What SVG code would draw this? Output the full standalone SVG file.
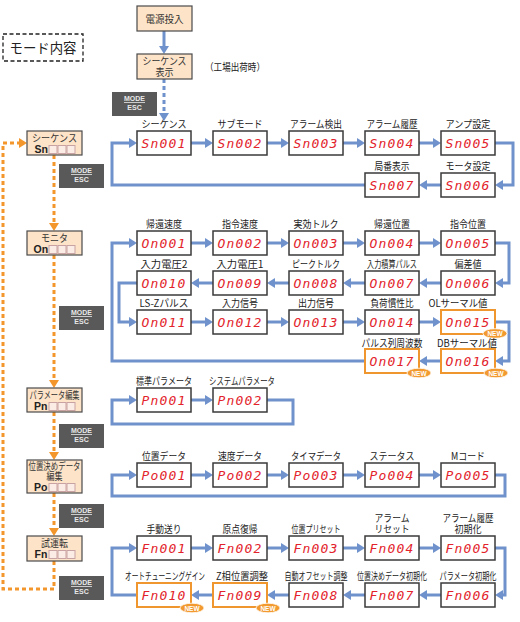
<svg xmlns="http://www.w3.org/2000/svg" width="520" height="622" viewBox="0 0 520 622">
<defs>
<marker id="ah" viewBox="0 0 8 10" markerWidth="8" markerHeight="10" refX="1" refY="5" orient="auto" markerUnits="userSpaceOnUse"><path d="M0,0 L8,5 L0,10 z" fill="#7092cc"/></marker>
<style>
.box{fill:#fff;stroke:#3a3a3a;stroke-width:1.5}
.nbox{fill:#fff;stroke:#f0962e;stroke-width:2}
.mbox{fill:#fde3c8;stroke:#4a4a4a;stroke-width:1.2}
.seg{font-family:"DejaVu Sans Mono",monospace;font-style:italic;font-weight:normal;font-size:13px;fill:#e3232b;letter-spacing:1.2px;text-anchor:middle}
.lbl{font-family:"Noto Sans CJK JP",sans-serif;font-size:10px;fill:#222;text-anchor:middle}
.ml{font-family:"Noto Sans CJK JP",sans-serif;font-size:10px;fill:#333;text-anchor:middle}
.code{font-family:"Liberation Sans",Arial,sans-serif;font-weight:bold;font-size:10.5px;fill:#222}
.sq{fill:#fbece6;stroke:#c9a3a3;stroke-width:1}
.flow{fill:none;stroke:#7092cc;stroke-width:3;marker-end:url(#ah)}
.or{fill:none;stroke:#f3962b;stroke-width:3;stroke-dasharray:4 3}
.oah{fill:#f3962b}
.me{fill:#595959}
.met{font-family:"Liberation Sans",Arial,sans-serif;font-weight:bold;font-size:7px;fill:#e8e8e8;text-anchor:middle}
.new{fill:#f29a30;stroke:#fff;stroke-width:0.8}
.newt{font-family:"Liberation Sans",Arial,sans-serif;font-weight:bold;font-size:6.5px;fill:#fff;text-anchor:middle}
</style>
</defs>
<rect width="520" height="622" fill="#fff"/>

<!-- title -->
<g id="title">
<rect x="3" y="34" width="80" height="27" fill="none" stroke="#222" stroke-width="1.3" stroke-dasharray="4 2.5"/>
<text x="43" y="53" font-family="Noto Sans CJK JP,sans-serif" font-size="13.5" fill="#222" text-anchor="middle" textLength="67" lengthAdjust="spacingAndGlyphs">モード内容</text>
</g>

<!-- connectors -->
<g id="connectors">
<path class="flow" d="M164,31 V47"/>
<path d="M164,79 V114" fill="none" stroke="#7092cc" stroke-width="3" stroke-dasharray="4 3"/>
<path d="M159,113 L169,113 L164,121 z" fill="#7092cc"/>
<text x="205" y="71" font-family="Noto Sans CJK JP,sans-serif" font-size="10" fill="#222" textLength="60" lengthAdjust="spacingAndGlyphs">（工場出荷時）</text>

<!-- Sn -->
<path class="flow" d="M191,143 H206"/>
<path class="flow" d="M267,143 H282"/>
<path class="flow" d="M343,143 H358"/>
<path class="flow" d="M419,143 H434"/>
<path class="flow" d="M495,143 H513 V185 H502"/>
<path class="flow" d="M441,185 H426"/>
<path class="flow" d="M365,185 H112 V143 H130"/>

<!-- On -->
<path class="flow" d="M191,243 H206"/>
<path class="flow" d="M267,243 H282"/>
<path class="flow" d="M343,243 H358"/>
<path class="flow" d="M419,243 H434"/>
<path class="flow" d="M495,243 H509 V283 H502"/>
<path class="flow" d="M441,283 H426"/>
<path class="flow" d="M365,283 H350"/>
<path class="flow" d="M289,283 H274"/>
<path class="flow" d="M213,283 H198"/>
<path class="flow" d="M137,283 H119 V322 H130"/>
<path class="flow" d="M191,322 H206"/>
<path class="flow" d="M267,322 H282"/>
<path class="flow" d="M343,322 H358"/>
<path class="flow" d="M419,322 H434"/>
<path class="flow" d="M495,322 H509 V361 H502"/>
<path class="flow" d="M441,361 H426"/>
<path class="flow" d="M365,361 H112 V243 H130"/>

<!-- Pn -->
<path class="flow" d="M191,400 H206"/>
<path class="flow" d="M267,400 H293 V424 H112 V400 H130"/>

<!-- Po -->
<path class="flow" d="M191,475 H206"/>
<path class="flow" d="M267,475 H282"/>
<path class="flow" d="M343,475 H358"/>
<path class="flow" d="M419,475 H434"/>
<path class="flow" d="M495,475 H505 V496 H112 V475 H130"/>

<!-- Fn -->
<path class="flow" d="M191,548 H206"/>
<path class="flow" d="M267,548 H282"/>
<path class="flow" d="M343,548 H358"/>
<path class="flow" d="M419,548 H434"/>
<path class="flow" d="M495,548 H505 V595 H502"/>
<path class="flow" d="M441,595 H426"/>
<path class="flow" d="M365,595 H350"/>
<path class="flow" d="M289,595 H274"/>
<path class="flow" d="M213,595 H198"/>
<path class="flow" d="M137,595 H112 V548 H130"/>

<!-- orange mode cycle -->
<path class="or" d="M54,155 V224"/>
<path class="oah" d="M49,223 L59,223 L54,231 z"/>
<path class="or" d="M54,255 V381"/>
<path class="oah" d="M49,380 L59,380 L54,388 z"/>
<path class="or" d="M54,412 V453"/>
<path class="oah" d="M49,452 L59,452 L54,460 z"/>
<path class="or" d="M54,493 V529"/>
<path class="oah" d="M49,528 L59,528 L54,536 z"/>
<path class="or" d="M54,561 V589 H3 V143 H20"/>
<path class="oah" d="M19,138 L19,148 L27,143 z"/>
</g>

<!-- MODE/ESC labels -->
<g id="modeesc">
<g><rect class="me" x="112" y="92" width="45" height="24"/><text class="met" x="134.5" y="101">MODE</text><line x1="124" y1="102.5" x2="145" y2="102.5" stroke="#e8e8e8" stroke-width="0.8"/><text class="met" x="134.5" y="110">ESC</text></g>
<g><rect class="me" x="59" y="164" width="45" height="24"/><text class="met" x="81.5" y="173">MODE</text><line x1="71" y1="174.5" x2="92" y2="174.5" stroke="#e8e8e8" stroke-width="0.8"/><text class="met" x="81.5" y="182">ESC</text></g>
<g><rect class="me" x="59" y="306" width="45" height="24"/><text class="met" x="81.5" y="315">MODE</text><line x1="71" y1="316.5" x2="92" y2="316.5" stroke="#e8e8e8" stroke-width="0.8"/><text class="met" x="81.5" y="324">ESC</text></g>
<g><rect class="me" x="59" y="424" width="45" height="24"/><text class="met" x="81.5" y="433">MODE</text><line x1="71" y1="434.5" x2="92" y2="434.5" stroke="#e8e8e8" stroke-width="0.8"/><text class="met" x="81.5" y="442">ESC</text></g>
<g><rect class="me" x="59" y="504" width="45" height="24"/><text class="met" x="81.5" y="513">MODE</text><line x1="71" y1="514.5" x2="92" y2="514.5" stroke="#e8e8e8" stroke-width="0.8"/><text class="met" x="81.5" y="522">ESC</text></g>
<g><rect class="me" x="59" y="576" width="45" height="24"/><text class="met" x="81.5" y="585">MODE</text><line x1="71" y1="586.5" x2="92" y2="586.5" stroke="#e8e8e8" stroke-width="0.8"/><text class="met" x="81.5" y="594">ESC</text></g>
</g>

<!-- top nodes -->
<g id="power"><rect class="mbox" x="137" y="6" width="55" height="25"/><text class="ml" x="164.5" y="23" textLength="38" lengthAdjust="spacingAndGlyphs">電源投入</text></g>
<g id="seqdisp"><rect class="mbox" x="137" y="54" width="55" height="25"/><text class="ml" x="164.5" y="65" textLength="44" lengthAdjust="spacingAndGlyphs">シーケンス</text><text class="ml" x="164.5" y="76" textLength="18" lengthAdjust="spacingAndGlyphs">表示</text></g>

<!-- mode nodes -->
<g id="mode-sn"><rect class="mbox" x="27" y="131" width="55" height="24"/><text class="ml" x="54.5" y="142" textLength="45" lengthAdjust="spacingAndGlyphs">シーケンス</text><text class="code" x="34.5" y="153">Sn</text><rect class="sq" x="49" y="145.5" width="8" height="8"/><rect class="sq" x="58" y="145.5" width="8" height="8"/><rect class="sq" x="67" y="145.5" width="8" height="8"/></g>
<g id="mode-on"><rect class="mbox" x="27" y="231" width="55" height="24"/><text class="ml" x="54.5" y="242" textLength="27" lengthAdjust="spacingAndGlyphs">モニタ</text><text class="code" x="33.5" y="253">On</text><rect class="sq" x="49" y="245.5" width="8" height="8"/><rect class="sq" x="58" y="245.5" width="8" height="8"/><rect class="sq" x="67" y="245.5" width="8" height="8"/></g>
<g id="mode-pn"><rect class="mbox" x="27" y="388" width="55" height="24"/><text class="ml" x="54.5" y="399" textLength="50" lengthAdjust="spacingAndGlyphs">パラメータ編集</text><text class="code" x="34" y="410">Pn</text><rect class="sq" x="49" y="402.5" width="8" height="8"/><rect class="sq" x="58" y="402.5" width="8" height="8"/><rect class="sq" x="67" y="402.5" width="8" height="8"/></g>
<g id="mode-po"><rect class="mbox" x="27" y="460" width="55" height="33"/><text class="ml" x="54.5" y="469.5" font-size="9.5" textLength="52" lengthAdjust="spacingAndGlyphs">位置決めデータ</text><text class="ml" x="54.5" y="480" font-size="9.5" textLength="16" lengthAdjust="spacingAndGlyphs">編集</text><text class="code" x="34" y="491">Po</text><rect class="sq" x="49" y="483.5" width="8" height="8"/><rect class="sq" x="58" y="483.5" width="8" height="8"/><rect class="sq" x="67" y="483.5" width="8" height="8"/></g>
<g id="mode-fn"><rect class="mbox" x="27" y="536" width="55" height="25"/><text class="ml" x="54.5" y="547" textLength="27" lengthAdjust="spacingAndGlyphs">試運転</text><text class="code" x="34.5" y="558">Fn</text><rect class="sq" x="49" y="550.5" width="8" height="8"/><rect class="sq" x="58" y="550.5" width="8" height="8"/><rect class="sq" x="67" y="550.5" width="8" height="8"/></g>

<!-- Sn nodes -->
<g id="Sn001"><text class="lbl" x="164" y="128" textLength="45" lengthAdjust="spacingAndGlyphs">シーケンス</text><rect class="box" x="137" y="131" width="54" height="24"/><text class="seg" x="164" y="148">Sn001</text></g>
<g id="Sn002"><text class="lbl" x="240" y="128" textLength="45" lengthAdjust="spacingAndGlyphs">サブモード</text><rect class="box" x="213" y="131" width="54" height="24"/><text class="seg" x="240" y="148">Sn002</text></g>
<g id="Sn003"><text class="lbl" x="316" y="128" textLength="52" lengthAdjust="spacingAndGlyphs">アラーム検出</text><rect class="box" x="289" y="131" width="54" height="24"/><text class="seg" x="316" y="148">Sn003</text></g>
<g id="Sn004"><text class="lbl" x="392" y="128" textLength="51" lengthAdjust="spacingAndGlyphs">アラーム履歴</text><rect class="box" x="365" y="131" width="54" height="24"/><text class="seg" x="392" y="148">Sn004</text></g>
<g id="Sn005"><text class="lbl" x="468" y="128" textLength="45" lengthAdjust="spacingAndGlyphs">アンプ設定</text><rect class="box" x="441" y="131" width="54" height="24"/><text class="seg" x="468" y="148">Sn005</text></g>
<g id="Sn006"><text class="lbl" x="468" y="170" textLength="45" lengthAdjust="spacingAndGlyphs">モータ設定</text><rect class="box" x="441" y="173" width="54" height="24"/><text class="seg" x="468" y="190">Sn006</text></g>
<g id="Sn007"><text class="lbl" x="392" y="170" textLength="35" lengthAdjust="spacingAndGlyphs">局番表示</text><rect class="box" x="365" y="173" width="54" height="24"/><text class="seg" x="392" y="190">Sn007</text></g>

<!-- On nodes -->
<g id="On001"><text class="lbl" x="164" y="228" textLength="36" lengthAdjust="spacingAndGlyphs">帰還速度</text><rect class="box" x="137" y="231" width="54" height="24"/><text class="seg" x="164" y="248">On001</text></g>
<g id="On002"><text class="lbl" x="240" y="228" textLength="36" lengthAdjust="spacingAndGlyphs">指令速度</text><rect class="box" x="213" y="231" width="54" height="24"/><text class="seg" x="240" y="248">On002</text></g>
<g id="On003"><text class="lbl" x="316" y="228" textLength="45" lengthAdjust="spacingAndGlyphs">実効トルク</text><rect class="box" x="289" y="231" width="54" height="24"/><text class="seg" x="316" y="248">On003</text></g>
<g id="On004"><text class="lbl" x="392" y="228" textLength="36" lengthAdjust="spacingAndGlyphs">帰還位置</text><rect class="box" x="365" y="231" width="54" height="24"/><text class="seg" x="392" y="248">On004</text></g>
<g id="On005"><text class="lbl" x="468" y="228" textLength="36" lengthAdjust="spacingAndGlyphs">指令位置</text><rect class="box" x="441" y="231" width="54" height="24"/><text class="seg" x="468" y="248">On005</text></g>
<g id="On006"><text class="lbl" x="468" y="268" textLength="27" lengthAdjust="spacingAndGlyphs">偏差値</text><rect class="box" x="441" y="271" width="54" height="24"/><text class="seg" x="468" y="288">On006</text></g>
<g id="On007"><text class="lbl" x="392" y="268" textLength="50" lengthAdjust="spacingAndGlyphs">入力積算パルス</text><rect class="box" x="365" y="271" width="54" height="24"/><text class="seg" x="392" y="288">On007</text></g>
<g id="On008"><text class="lbl" x="316" y="268" textLength="48" lengthAdjust="spacingAndGlyphs">ピークトルク</text><rect class="box" x="289" y="271" width="54" height="24"/><text class="seg" x="316" y="288">On008</text></g>
<g id="On009"><text class="lbl" x="240" y="268" textLength="47" lengthAdjust="spacingAndGlyphs">入力電圧1</text><rect class="box" x="213" y="271" width="54" height="24"/><text class="seg" x="240" y="288">On009</text></g>
<g id="On010"><text class="lbl" x="164" y="268" textLength="47" lengthAdjust="spacingAndGlyphs">入力電圧2</text><rect class="box" x="137" y="271" width="54" height="24"/><text class="seg" x="164" y="288">On010</text></g>
<g id="On011"><text class="lbl" x="164" y="307" textLength="49" lengthAdjust="spacingAndGlyphs">LS-Zパルス</text><rect class="box" x="137" y="310" width="54" height="24"/><text class="seg" x="164" y="327">On011</text></g>
<g id="On012"><text class="lbl" x="240" y="307" textLength="36" lengthAdjust="spacingAndGlyphs">入力信号</text><rect class="box" x="213" y="310" width="54" height="24"/><text class="seg" x="240" y="327">On012</text></g>
<g id="On013"><text class="lbl" x="316" y="307" textLength="36" lengthAdjust="spacingAndGlyphs">出力信号</text><rect class="box" x="289" y="310" width="54" height="24"/><text class="seg" x="316" y="327">On013</text></g>
<g id="On014"><text class="lbl" x="392" y="307" textLength="43" lengthAdjust="spacingAndGlyphs">負荷慣性比</text><rect class="box" x="365" y="310" width="54" height="24"/><text class="seg" x="392" y="327">On014</text></g>
<g id="On015"><text class="lbl" x="458" y="307" textLength="59" lengthAdjust="spacingAndGlyphs">OLサーマル値</text><rect class="nbox" x="441" y="310" width="54" height="24"/><text class="seg" x="468" y="327">On015</text><ellipse class="new" cx="495" cy="333.5" rx="12" ry="4.8"/><text class="newt" x="495" y="336">NEW</text></g>
<g id="On016"><text class="lbl" x="467" y="346.5" textLength="60" lengthAdjust="spacingAndGlyphs">DBサーマル値</text><rect class="nbox" x="441" y="349" width="54" height="24"/><text class="seg" x="468" y="366">On016</text><ellipse class="new" cx="496" cy="373" rx="12" ry="4.8"/><text class="newt" x="496" y="375.5">NEW</text></g>
<g id="On017"><text class="lbl" x="392" y="346.5" textLength="61" lengthAdjust="spacingAndGlyphs">パルス列周波数</text><rect class="nbox" x="365" y="349" width="54" height="24"/><text class="seg" x="392" y="366">On017</text><ellipse class="new" cx="419" cy="373" rx="12" ry="4.8"/><text class="newt" x="419" y="375.5">NEW</text></g>

<!-- Pn nodes -->
<g id="Pn001"><text class="lbl" x="164" y="385" textLength="56" lengthAdjust="spacingAndGlyphs">標準パラメータ</text><rect class="box" x="137" y="388" width="54" height="24"/><text class="seg" x="164" y="405">Pn001</text></g>
<g id="Pn002"><text class="lbl" x="242" y="385" textLength="66" lengthAdjust="spacingAndGlyphs">システムパラメータ</text><rect class="box" x="213" y="388" width="54" height="24"/><text class="seg" x="240" y="405">Pn002</text></g>

<!-- Po nodes -->
<g id="Po001"><text class="lbl" x="164" y="460" textLength="44" lengthAdjust="spacingAndGlyphs">位置データ</text><rect class="box" x="137" y="463" width="54" height="24"/><text class="seg" x="164" y="480">Po001</text></g>
<g id="Po002"><text class="lbl" x="240" y="460" textLength="44" lengthAdjust="spacingAndGlyphs">速度データ</text><rect class="box" x="213" y="463" width="54" height="24"/><text class="seg" x="240" y="480">Po002</text></g>
<g id="Po003"><text class="lbl" x="316" y="460" textLength="50" lengthAdjust="spacingAndGlyphs">タイマデータ</text><rect class="box" x="289" y="463" width="54" height="24"/><text class="seg" x="316" y="480">Po003</text></g>
<g id="Po004"><text class="lbl" x="392" y="460" textLength="45" lengthAdjust="spacingAndGlyphs">ステータス</text><rect class="box" x="365" y="463" width="54" height="24"/><text class="seg" x="392" y="480">Po004</text></g>
<g id="Po005"><text class="lbl" x="468" y="460" textLength="34" lengthAdjust="spacingAndGlyphs">Mコード</text><rect class="box" x="441" y="463" width="54" height="24"/><text class="seg" x="468" y="480">Po005</text></g>

<!-- Fn nodes -->
<g id="Fn001"><text class="lbl" x="164" y="533" textLength="35" lengthAdjust="spacingAndGlyphs">手動送り</text><rect class="box" x="137" y="536" width="54" height="24"/><text class="seg" x="164" y="553">Fn001</text></g>
<g id="Fn002"><text class="lbl" x="240" y="533" textLength="35" lengthAdjust="spacingAndGlyphs">原点復帰</text><rect class="box" x="213" y="536" width="54" height="24"/><text class="seg" x="240" y="553">Fn002</text></g>
<g id="Fn003"><text class="lbl" x="316" y="533" textLength="49" lengthAdjust="spacingAndGlyphs">位置プリセット</text><rect class="box" x="289" y="536" width="54" height="24"/><text class="seg" x="316" y="553">Fn003</text></g>
<g id="Fn004"><text class="lbl" x="392" y="522" textLength="35" lengthAdjust="spacingAndGlyphs">アラーム</text><text class="lbl" x="392" y="533" textLength="35" lengthAdjust="spacingAndGlyphs">リセット</text><rect class="box" x="365" y="536" width="54" height="24"/><text class="seg" x="392" y="553">Fn004</text></g>
<g id="Fn005"><text class="lbl" x="468" y="522" textLength="51" lengthAdjust="spacingAndGlyphs">アラーム履歴</text><text class="lbl" x="468" y="533" textLength="27" lengthAdjust="spacingAndGlyphs">初期化</text><rect class="box" x="441" y="536" width="54" height="24"/><text class="seg" x="468" y="553">Fn005</text></g>
<g id="Fn006"><text class="lbl" x="468" y="580" textLength="57" lengthAdjust="spacingAndGlyphs">パラメータ初期化</text><rect class="box" x="441" y="583" width="54" height="24"/><text class="seg" x="468" y="600">Fn006</text></g>
<g id="Fn007"><text class="lbl" x="392" y="580" textLength="70" lengthAdjust="spacingAndGlyphs">位置決めデータ初期化</text><rect class="box" x="365" y="583" width="54" height="24"/><text class="seg" x="392" y="600">Fn007</text></g>
<g id="Fn008"><text class="lbl" x="316" y="580" textLength="63" lengthAdjust="spacingAndGlyphs">自動オフセット調整</text><rect class="box" x="289" y="583" width="54" height="24"/><text class="seg" x="316" y="600">Fn008</text></g>
<g id="Fn009"><text class="lbl" x="242" y="580" textLength="52" lengthAdjust="spacingAndGlyphs">Z相位置調整</text><rect class="nbox" x="213" y="583" width="54" height="24"/><text class="seg" x="240" y="600">Fn009</text><ellipse class="new" cx="268" cy="608" rx="12" ry="4.8"/><text class="newt" x="268" y="610.5">NEW</text></g>
<g id="Fn010"><text class="lbl" x="165" y="580" textLength="80" lengthAdjust="spacingAndGlyphs">オートチューニングゲイン</text><rect class="nbox" x="137" y="583" width="54" height="24"/><text class="seg" x="164" y="600">Fn010</text><ellipse class="new" cx="192" cy="608" rx="12" ry="4.8"/><text class="newt" x="192" y="610.5">NEW</text></g>
</svg>
